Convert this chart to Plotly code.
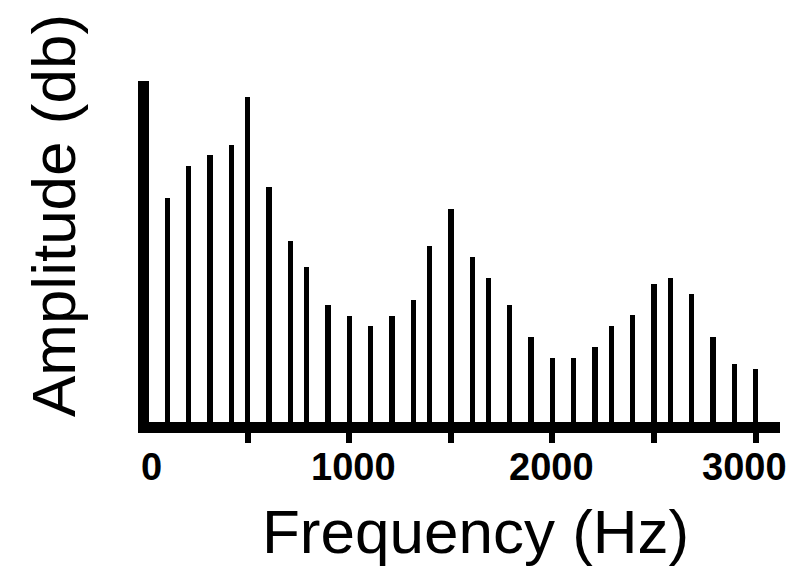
import plotly.graph_objects as go

freq_hz = [105, 210, 315, 420, 500, 605, 710, 790, 895, 1000,
           1105, 1210, 1315, 1395, 1500, 1605, 1685, 1790, 1895, 2000,
           2105, 2210, 2290, 2395, 2500, 2580, 2685, 2790, 2895, 3000]
amplitude_db = [65.8, 75.1, 78.2, 81.3, 95.4, 68.8, 53.1, 45.4, 34.3, 31.2,
                28.1, 31.2, 35.9, 51.6, 62.5, 48.4, 42.1, 34.3, 24.9, 18.7,
                18.7, 21.9, 28.2, 31.3, 40.6, 42.1, 37.4, 24.9, 17.1, 15.5]
tick_vals = [500, 1000, 1500, 2000, 2500, 3000]
label_text = ["0", "1000", "2000", "3000"]
# label centres in axis-relative (paper) coordinates
label_pos = [0.0043, 0.3245, 0.6375, 0.9431]

x_title = "Frequency (Hz)"
y_title = "Amplitude (db)"

fig = go.Figure()
fig.add_trace(go.Bar(
    x=freq_hz, y=amplitude_db, width=26,
    marker=dict(color="black", line=dict(width=0)),
    hoverinfo="x+y",
))

FONT = "Liberation Sans, Arial, sans-serif"

annotations = []
for p, t in zip(label_pos, label_text):
    annotations.append(dict(
        x=p, xref="paper", y=-0.132, yref="paper", text="<b>%s</b>" % t,
        showarrow=False, xanchor="center", yanchor="middle",
        font=dict(family=FONT, size=38, color="black"),
    ))
annotations.append(dict(
    x=0.5177, xref="paper", y=-0.322, yref="paper", text=x_title,
    showarrow=False, xanchor="center", yanchor="middle",
    font=dict(family=FONT, size=62, color="black"),
))
annotations.append(dict(
    x=-0.152, xref="paper", y=0.604, yref="paper", text=y_title,
    textangle=-90, showarrow=False, xanchor="center", yanchor="middle",
    font=dict(family=FONT, size=62, color="black"),
))

fig.update_layout(
    width=809, height=568,
    margin=dict(l=149, r=29, t=81, b=146, pad=0),
    paper_bgcolor="white", plot_bgcolor="white",
    showlegend=False, bargap=0,
    annotations=annotations,
    xaxis=dict(
        range=[14.3, 3120], showline=True, linewidth=11, linecolor="black",
        ticks="outside", tickmode="array", tickvals=tick_vals,
        ticklen=10, tickwidth=6, tickcolor="black",
        showticklabels=False, showgrid=False, zeroline=False,
    ),
    yaxis=dict(
        range=[0, 100], showline=True, linewidth=11, linecolor="black",
        ticks="", showticklabels=False, showgrid=False, zeroline=False,
    ),
)

fig.write_html("out.html")
